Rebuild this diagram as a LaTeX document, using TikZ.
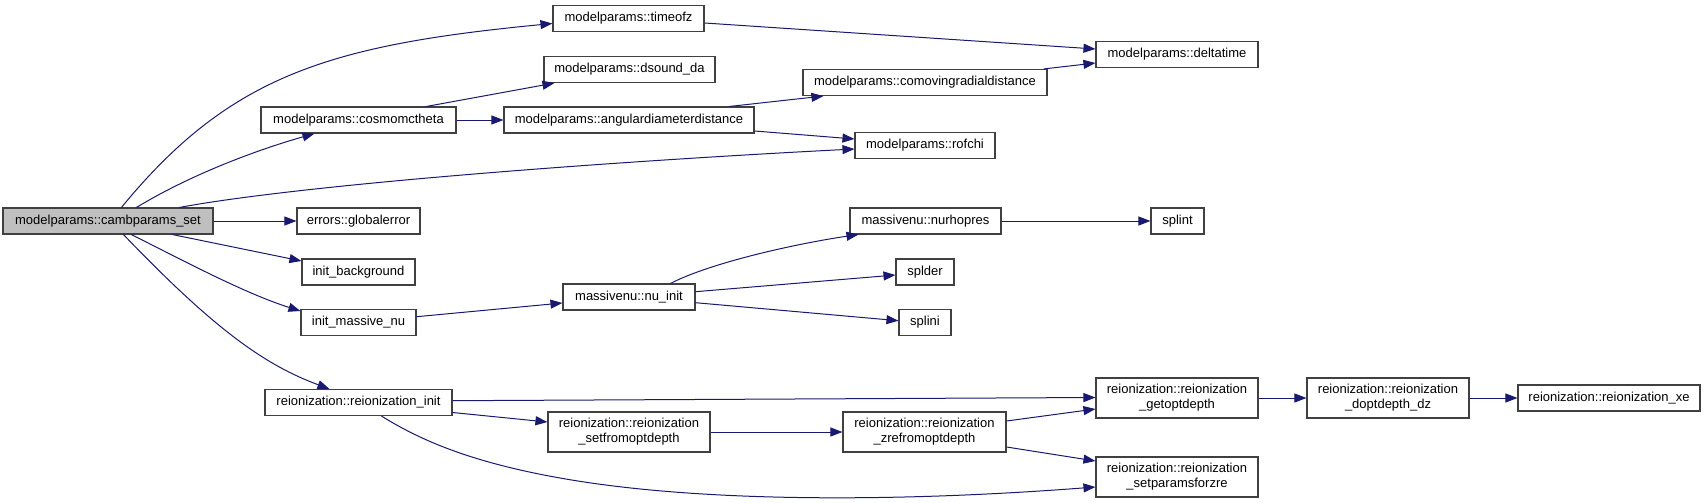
\documentclass[tikz,border=0pt]{standalone}
\usepackage{fontspec}
\setmainfont{Liberation Sans}
\usetikzlibrary{arrows.meta,calc}
\definecolor{edgec}{HTML}{191970}
\definecolor{boxc}{HTML}{404040}
\definecolor{rootc}{HTML}{BFBFBF}
\tikzset{
  fn/.style={draw=boxc, line width=1.1pt, fill=white, rectangle, inner sep=0pt,
    font=\fontsize{13}{15}\selectfont, align=center, minimum height=26pt},
  fnii/.style={fn, minimum height=40pt},
  rootfn/.style={fn, fill=rootc},
  call/.style={draw=edgec, line width=1pt, -{Triangle[length=12pt,width=9pt]}}
}
\begin{document}
\begin{tikzpicture}[x=1pt,y=-1pt]
\useasboundingbox (0,0) rectangle (1707,503);
% nodes
\node[rootfn, minimum width=210pt] (camb) at (108,221) {modelparams::cambparams\_set};
\node[fn, minimum width=123pt] (glob) at (358.5,221) {errors::globalerror};
\node[fn, minimum width=151pt] (timeofz) at (628.5,18.5) {modelparams::timeofz};
\node[fn, minimum width=162pt] (delta) at (1177,54.5) {modelparams::deltatime};
\node[fn, minimum width=171pt] (dsound) at (629.5,69.5) {modelparams::dsound\_da};
\node[fn, minimum width=244pt] (comov) at (925,82.5) {modelparams::comovingradialdistance};
\node[fn, minimum width=195pt] (cosmo) at (358.5,120) {modelparams::cosmomctheta};
\node[fn, minimum width=250pt] (angd) at (629,120) {modelparams::angulardiameterdistance};
\node[fn, minimum width=140pt] (rofchi) at (925,145.5) {modelparams::rofchi};
\node[fn, minimum width=151pt] (nurho) at (925.5,221) {massivenu::nurhopres};
\node[fn, minimum width=53pt] (splint) at (1177.5,221) {splint};
\node[fn, minimum width=113pt] (initbg) at (358.5,272) {init\_background};
\node[fn, minimum width=58pt] (splder) at (925,272) {splder};
\node[fn, minimum width=132pt] (nuinit) at (629,297) {massivenu::nu\_init};
\node[fn, minimum width=115pt] (initmnu) at (358.5,322.5) {init\_massive\_nu};
\node[fn, minimum width=52pt] (splini) at (925,322.5) {splini};
\node[fn, minimum width=187pt] (reiinit) at (358.5,402.5) {reionization::reionization\_init};
\node[fnii, minimum width=162pt] (setfrom) at (629,432) {reionization::reionization\\\_setfromoptdepth};
\node[fnii, minimum width=163pt] (zrefrom) at (924.5,432) {reionization::reionization\\\_zrefromoptdepth};
\node[fnii, minimum width=162pt] (getopt) at (1177,398) {reionization::reionization\\\_getoptdepth};
\node[fnii, minimum width=162pt] (dopt) at (1388,398) {reionization::reionization\\\_doptdepth\_dz};
\node[fn, minimum width=182pt] (reixe) at (1609,398) {reionization::reionization\_xe};
\node[fnii, minimum width=162pt] (setpar) at (1177,477) {reionization::reionization\\\_setparamsforzre};
% edges
\draw[call] ($(camb.north west)+(119,0)$) .. controls (230,75) and (330,45) .. ($(timeofz.west)+(0,5)$);
\draw[call] ($(camb.north west)+(134,0)$) .. controls (190,175) and (255,150.5) .. ($(cosmo.south west)+(54,0)$);
\draw[call] ($(camb.north west)+(177,0)$) .. controls (300,185) and (600,162) .. ($(rofchi.west)+(0,3.5)$);
\draw[call] (camb.east) -- (glob.west);
\draw[call] ($(camb.south west)+(170,0)$) -- ($(initbg.west)+(0,-11)$);
\draw[call] ($(camb.south west)+(129,0)$) .. controls (182,260) and (245,293.5) .. ($(initmnu.west)+(0,-11.5)$);
\draw[call] ($(camb.south west)+(121,0)$) .. controls (215,330) and (265,365) .. ($(reiinit.north west)+(65,0)$);
\draw[call] ($(cosmo.north west)+(166,0)$) -- ($(dsound.south west)+(11,0)$);
\draw[call] (cosmo.east) -- (angd.west);
\draw[call] ($(timeofz.east)+(0,4.5)$) -- ($(delta.west)+(0,-5.5)$);
\draw[call] ($(angd.north west)+(226,0)$) -- ($(comov.south west)+(21,0)$);
\draw[call] ($(angd.east)+(0,11)$) -- ($(rofchi.west)+(0,-6.5)$);
\draw[call] ($(comov.north east)+(-4,0)$) -- ($(delta.west)+(0,8.5)$);
\draw[call] ($(initmnu.east)+(0,-5.8)$) -- ($(nuinit.west)+(0,6)$);
\draw[call] ($(nuinit.north west)+(108,0)$) .. controls (712,262) and (800,243) .. ($(nurho.south west)+(9,0)$);
\draw[call] ($(nuinit.east)+(0,-5.3)$) -- ($(splder.west)+(0,3)$);
\draw[call] ($(nuinit.east)+(0,5.7)$) -- ($(splini.west)+(0,-1.8)$);
\draw[call] (nurho.east) -- (splint.west);
\draw[call] ($(reiinit.east)+(0,-1.8)$) -- ($(getopt.west)+(0,-0.5)$);
\draw[call] ($(reiinit.east)+(0,10)$) -- ($(setfrom.west)+(0,-10)$);
\draw[call] ($(reiinit.south west)+(117,0)$) .. controls (420,440) and (470,462) .. (560,478)
   .. controls (700,503) and (900,502) .. ($(setpar.west)+(0,10)$);
\draw[call] (setfrom.east) -- (zrefrom.west);
\draw[call] ($(zrefrom.east)+(0,-11)$) -- ($(getopt.west)+(0,11)$);
\draw[call] ($(zrefrom.east)+(0,15)$) -- ($(setpar.west)+(0,-16)$);
\draw[call] (getopt.east) -- (dopt.west);
\draw[call] (dopt.east) -- (reixe.west);
\end{tikzpicture}
\end{document}
